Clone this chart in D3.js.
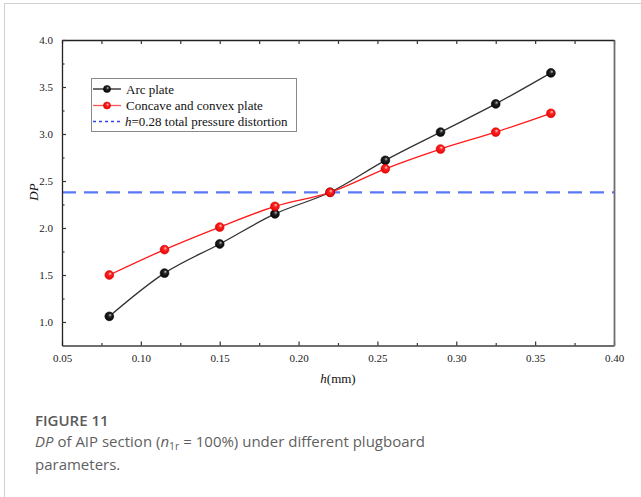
<!DOCTYPE html>
<html><head><meta charset="utf-8">
<script src="https://cdn.jsdelivr.net/npm/d3@7"></script>
<style>body{margin:0;background:#fff;}svg{display:block;}</style>
</head><body>
<script>
const hValues = [0.08, 0.115, 0.15, 0.185, 0.22, 0.255, 0.29, 0.325, 0.36];
const arcPlate = [1.06, 1.52, 1.83, 2.15, 2.38, 2.72, 3.02, 3.32, 3.65];
const concavePlate = [1.50, 1.77, 2.01, 2.23, 2.38, 2.63, 2.84, 3.02, 3.22];
const refValue = 2.38;
const seriesNames = ["Arc plate", "Concave and convex plate"];
const xTicks = [0.05, 0.10, 0.15, 0.20, 0.25, 0.30, 0.35, 0.40];
const yTicks = [1.0, 1.5, 2.0, 2.5, 3.0, 3.5, 4.0];

const W = 641, H = 497;
const svg = d3.select("body").append("svg").attr("width", W).attr("height", H);

// card border
svg.append("line").attr("x1",4.5).attr("x2",4.5).attr("y1",3.5).attr("y2",H).attr("stroke","#d0d0d0").attr("stroke-width",1);
svg.append("line").attr("x1",4.5).attr("x2",W).attr("y1",3.5).attr("y2",3.5).attr("stroke","#d0d0d0").attr("stroke-width",1);

const L = 62, R = 614, T = 40, B = 345.5;
const x = d3.scaleLinear().domain([0.05, 0.40]).range([L, R]);
const y = d3.scaleLinear().domain([0.75, 4.0]).range([B, T]);

const defs = svg.append("defs");
function grad(id, hi, mid, lo){
  const g = defs.append("radialGradient").attr("id", id).attr("cx","50%").attr("cy","50%").attr("r","60%").attr("fx","62%").attr("fy","32%");
  g.append("stop").attr("offset","0%").attr("stop-color",hi);
  g.append("stop").attr("offset","35%").attr("stop-color",mid);
  g.append("stop").attr("offset","100%").attr("stop-color",lo);
}
grad("gBlack", "#bbbbbb", "#222", "#000");
grad("gRed", "#ffd0d0", "#ff2020", "#e00000");

const serif = "'Liberation Serif', 'Times New Roman', serif";

// dashed reference line
svg.append("line").attr("x1", L).attr("x2", R).attr("y1", y(refValue)).attr("y2", y(refValue))
  .attr("stroke", "#5a78f5").attr("stroke-width", 2.2).attr("stroke-dasharray", "14,8");

// axes
const minor = [0.075, 0.125, 0.175, 0.225, 0.275, 0.325, 0.375];
const yMinorT = [1.25, 1.75, 2.25, 2.75, 3.25, 3.75];

const axB = d3.axisBottom(x).tickValues(xTicks).tickFormat(d3.format(".2f")).tickSizeInner(-4).tickSizeOuter(0).tickPadding(9);
const gB = svg.append("g").attr("transform", `translate(0,${B})`).call(axB);
gB.select(".domain").attr("stroke","#6e6e6e").attr("stroke-width",1.8);
gB.selectAll(".tick line").attr("stroke","#333").attr("stroke-width",1.2);
gB.selectAll("text").attr("font-family", serif).attr("font-size", 11).attr("fill","#222");
const gBm = svg.append("g").attr("transform", `translate(0,${B})`).call(d3.axisBottom(x).tickValues(minor).tickFormat("").tickSizeInner(-2.5).tickSizeOuter(0));
gBm.select(".domain").remove();
gBm.selectAll(".tick line").attr("stroke","#333").attr("stroke-width",1.2);

const gT = svg.append("g").attr("transform", `translate(0,${T})`).call(d3.axisTop(x).tickValues(xTicks.concat(minor)).tickFormat("").tickSizeInner(-4).tickSizeOuter(0));
gT.select(".domain").attr("stroke","#222").attr("stroke-width",1.3);
gT.selectAll(".tick line").attr("stroke","#333").attr("stroke-width",1.2);

const axL = d3.axisLeft(y).tickValues(yTicks).tickFormat(d3.format(".1f")).tickSizeInner(-4).tickSizeOuter(0).tickPadding(9);
const gL = svg.append("g").attr("transform", `translate(${L},0)`).call(axL);
gL.select(".domain").attr("stroke","#222").attr("stroke-width",1.3);
gL.selectAll(".tick line").attr("stroke","#333").attr("stroke-width",1.2);
gL.selectAll("text").attr("font-family", serif).attr("font-size", 11).attr("fill","#222");
const gLm = svg.append("g").attr("transform", `translate(${L},0)`).call(d3.axisLeft(y).tickValues(yMinorT).tickFormat("").tickSizeInner(-2.5).tickSizeOuter(0));
gLm.select(".domain").remove();
gLm.selectAll(".tick line").attr("stroke","#333").attr("stroke-width",1.2);

const gR = svg.append("g").attr("transform", `translate(${R},0)`).call(d3.axisRight(y).tickValues([]).tickSizeOuter(0));
gR.select(".domain").attr("stroke","#6e6e6e").attr("stroke-width",1.8);

// series lines
const lineGen = d3.line().x((d,i)=>x(hValues[i])).y(d=>y(d)).curve(d3.curveCatmullRom.alpha(0.5));
svg.append("path").datum(arcPlate).attr("d", lineGen).attr("fill","none").attr("stroke","#333").attr("stroke-width",1.3);
svg.append("path").datum(concavePlate).attr("d", lineGen).attr("fill","none").attr("stroke","#ff1a1a").attr("stroke-width",1.3);

function markers(data, fill, stroke){
  svg.append("g").selectAll("circle").data(data).join("circle")
    .attr("cx",(d,i)=>x(hValues[i])).attr("cy",d=>y(d)).attr("r",4.4)
    .attr("fill", fill).attr("stroke", stroke).attr("stroke-width",0.6);
}
markers(arcPlate, "url(#gBlack)", "#000");
markers(concavePlate, "url(#gRed)", "#d00");

// legend
const lg = svg.append("g");
lg.append("rect").attr("x",91.5).attr("y",78.5).attr("width",205).attr("height",53).attr("fill","#fff").attr("stroke","#8a8a8a").attr("stroke-width",1);
const rows = [89, 105.5, 121.5];
lg.append("line").attr("x1",93).attr("x2",121).attr("y1",rows[0]).attr("y2",rows[0]).attr("stroke","#222").attr("stroke-width",1.3);
lg.append("circle").attr("cx",107).attr("cy",rows[0]).attr("r",3.6).attr("fill","url(#gBlack)").attr("stroke","#000").attr("stroke-width",0.5);
lg.append("line").attr("x1",93).attr("x2",121).attr("y1",rows[1]).attr("y2",rows[1]).attr("stroke","#ff5555").attr("stroke-width",1.3);
lg.append("circle").attr("cx",107).attr("cy",rows[1]).attr("r",3.6).attr("fill","url(#gRed)").attr("stroke","#d00").attr("stroke-width",0.5);
lg.append("line").attr("x1",93).attr("x2",121).attr("y1",rows[2]).attr("y2",rows[2]).attr("stroke","#3344ee").attr("stroke-width",1.3).attr("stroke-dasharray","3,3");
const lt = lg.append("g").attr("font-family", serif).attr("font-size", 13).attr("fill","#111");
lt.append("text").attr("x",126).attr("y",rows[0]+4.5).text(seriesNames[0]);
lt.append("text").attr("x",126).attr("y",rows[1]+4.5).text(seriesNames[1]);
const t3 = lt.append("text").attr("x",125).attr("y",rows[2]+4.5);
t3.append("tspan").attr("font-style","italic").text("h");
t3.append("tspan").text("=0.28 total pressure distortion");

// axis titles
const xl = svg.append("text").attr("x",338).attr("y",383).attr("text-anchor","middle").attr("font-family",serif).attr("font-size",13).attr("fill","#111");
xl.append("tspan").attr("font-style","italic").text("h");
xl.append("tspan").text("(mm)");
svg.append("text").attr("transform","translate(38,192) rotate(-90)").attr("text-anchor","middle").attr("font-family",serif).attr("font-size",13).attr("font-style","italic").attr("fill","#111").text("DP");

// caption
const sans = "'Open Sans', 'Noto Sans', sans-serif";
svg.append("text").attr("x",35).attr("y",426).attr("font-family",sans).attr("font-size",15).attr("font-weight",600).attr("fill","#5a5a5a").text("FIGURE 11");
const c1 = svg.append("text").attr("x",35).attr("y",447).attr("font-family",sans).attr("font-size",15).attr("fill","#5f5f5f");
c1.append("tspan").attr("font-style","italic").text("DP");
c1.append("tspan").text(" of AIP section (");
c1.append("tspan").attr("font-style","italic").text("n");
c1.append("tspan").attr("font-size",10.5).attr("dy",3).text("1r");
c1.append("tspan").attr("dy",-3).text(" = 100%) under different plugboard");
svg.append("text").attr("x",35).attr("y",470).attr("font-family",sans).attr("font-size",15).attr("fill","#5f5f5f").text("parameters.");
</script>
</body></html>
